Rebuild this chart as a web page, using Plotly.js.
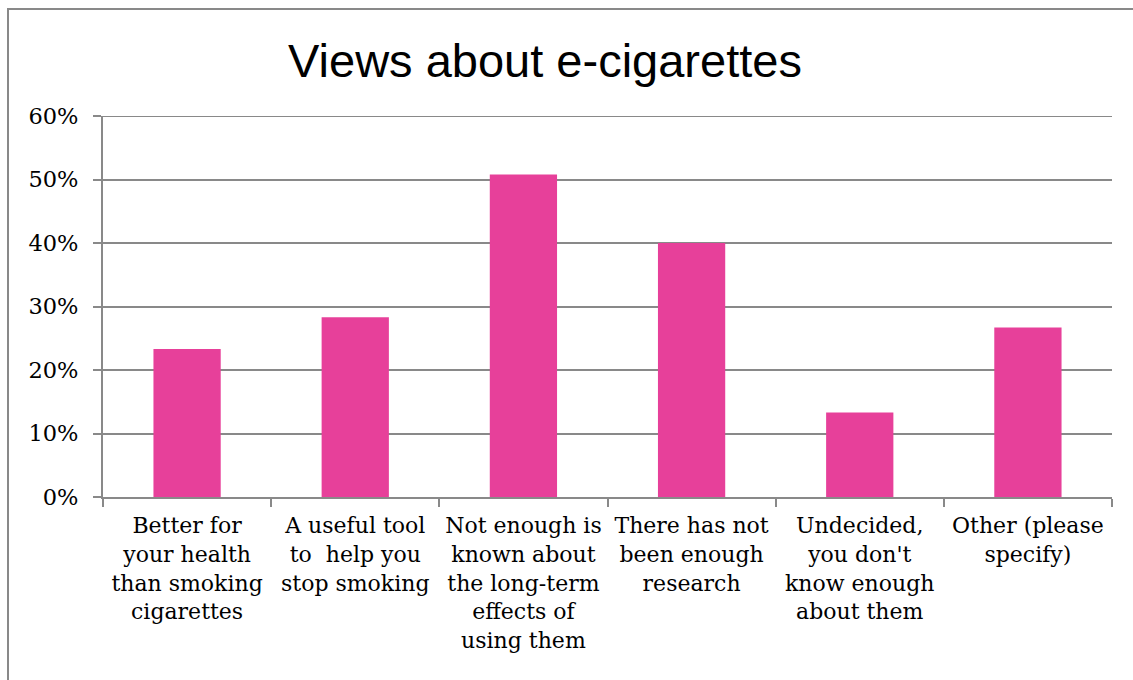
<!DOCTYPE html>
<html>
<head>
<meta charset="utf-8">
<script src="https://cdn.plot.ly/plotly-3.0.1.min.js"></script>
<style>
  html, body { margin: 0; padding: 0; background: #fff; }
  #chart { width: 1133px; height: 680px; }
</style>
</head>
<body>
<div id="chart"></div>
<script>
// Data
const categories = [
  "Better for<br>your health<br>than smoking<br>cigarettes",
  "A useful tool<br>to  help you<br>stop smoking",
  "Not enough is<br>known about<br>the long-term<br>effects of<br>using them",
  "There has not<br>been enough<br>research",
  "Undecided,<br>you don't<br>know enough<br>about them",
  "Other (please<br>specify)"
];
const values = [0.233, 0.283, 0.508, 0.400, 0.133, 0.267];
const yTickVals = [0, 0.1, 0.2, 0.3, 0.4, 0.5, 0.6];
const yTickText = ["0%", "10%", "20%", "30%", "40%", "50%", "60%"];
const yMax = 0.6;
const chartTitle = "Views about e-cigarettes";

const gray = "#898989";
const W = 1133, H = 680;
const m = { l: 103, r: 21, t: 116, b: 183 };
const pw = W - m.l - m.r, ph = H - m.t - m.b;

const trace = {
  type: "bar",
  x: categories,
  y: values,
  marker: { color: "#E7409A", line: { width: 0 } },
  hoverinfo: "none"
};

const layout = {
  width: W,
  height: H,
  margin: m,
  paper_bgcolor: "#fff",
  plot_bgcolor: "#fff",
  showlegend: false,
  bargap: 0.6,
  title: {
    text: chartTitle,
    font: { family: "Liberation Sans, Arial, sans-serif", size: 47, color: "#000" },
    x: 545 / W,
    xanchor: "center",
    xref: "container",
    y: 1 - 61 / H,
    yanchor: "middle",
    yref: "container"
  },
  xaxis: {
    type: "category",
    tickson: "boundaries",
    ticks: "outside",
    ticklen: 8,
    tickwidth: 2,
    tickcolor: gray,
    showline: true,
    linecolor: gray,
    linewidth: 2,
    showgrid: false,
    tickangle: 0,
    automargin: false,
    tickfont: { family: "DejaVu Serif, serif", size: 22, color: "#000" },
    ticklabelstandoff: 8,
    fixedrange: true
  },
  yaxis: {
    range: [0, yMax],
    tickvals: yTickVals,
    ticktext: yTickText,
    ticks: "outside",
    ticklen: 8,
    tickwidth: 2,
    tickcolor: gray,
    showline: true,
    linecolor: gray,
    linewidth: 2,
    showgrid: true,
    gridcolor: gray,
    gridwidth: 2,
    zeroline: false,
    automargin: false,
    tickfont: { family: "DejaVu Serif, serif", size: 22.5, color: "#000" },
    ticklabelstandoff: 10,
    fixedrange: true
  },
  shapes: [
    {
      // top gridline at the range maximum (Plotly drops the edge gridline)
      type: "line",
      xref: "paper",
      yref: "y",
      x0: 0,
      x1: 1,
      y0: yMax,
      y1: yMax,
      line: { color: gray, width: 2 },
      layer: "below"
    },
    {
      type: "rect",
      xref: "paper",
      yref: "paper",
      x0: (8 - m.l) / pw,
      x1: (W + 20 - m.l) / pw,
      y0: (m.t + ph - (H + 20)) / ph,
      y1: (m.t + ph - 9) / ph,
      line: { color: gray, width: 2 },
      fillcolor: "rgba(0,0,0,0)",
      layer: "below"
    }
  ]
};

Plotly.newPlot("chart", [trace], layout, { staticPlot: true, displayModeBar: false });
</script>
</body>
</html>
